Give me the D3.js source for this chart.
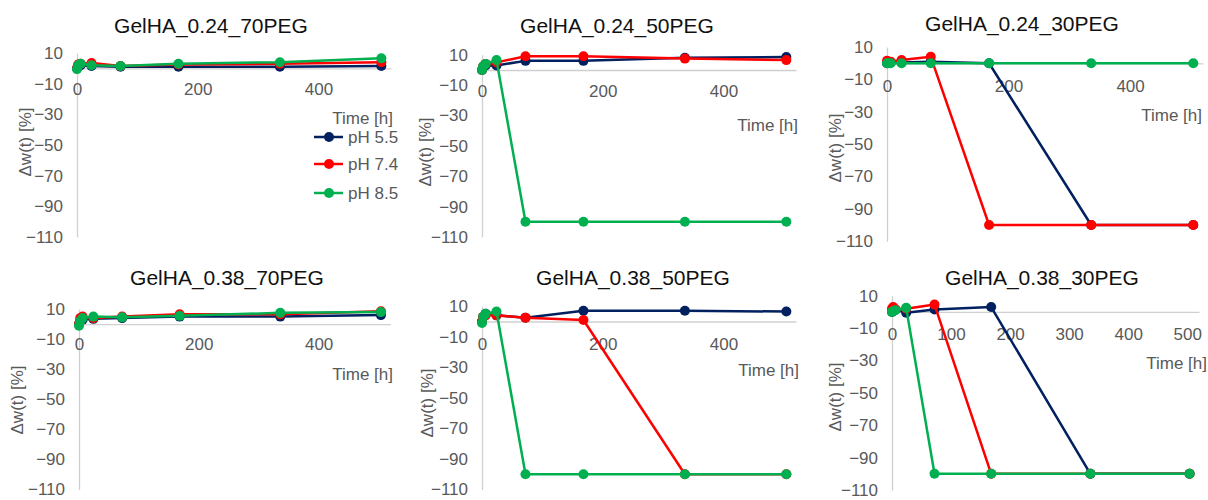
<!DOCTYPE html>
<html>
<head>
<meta charset="utf-8">
<script src="https://cdn.jsdelivr.net/npm/d3@7"></script>
<style>
  html, body { margin: 0; padding: 0; background: #fff; }
  svg { display: block; font-family: "Liberation Sans", Arial, sans-serif; }
</style>
</head>
<body>
<svg id="chart" width="1208" height="500"></svg>
<script>
// ---------- data ----------
const timeH = [0, 2, 6, 24, 72, 168, 336, 504];
const seriesNames = ["pH 5.5", "pH 7.4", "pH 8.5"];
const panelTitles = ["GelHA_0.24_70PEG", "GelHA_0.24_50PEG", "GelHA_0.24_30PEG",
                     "GelHA_0.38_70PEG", "GelHA_0.38_50PEG", "GelHA_0.38_30PEG"];
const yTicks = [-110, -90, -70, -50, -30, -10, 10];
const xTicksA = [0, 200, 400];
const xTicksB = [0, 100, 200, 300, 400, 500];

// Δw(t) [%] per panel, series order: pH 5.5, pH 7.4, pH 8.5
const dw_024_70 = [
  [0, 1.5, 2, 1.5, 1, 1, 1, 1.5],
  [0, 2.5, 3, 3.5, 1.5, 2.5, 3, 4],
  [-0.5, 2, 3, 2, 1.5, 3, 4, 6.5]
];
const dw_024_50 = [
  [0, 2, 3, 3, 6, 6, 8, 8.5],
  [0, 2.5, 4, 5, 9, 9, 7.5, 6.5],
  [0, 2.5, 4, 6.5, -100, -100, -100, -100]
];
const dw_024_30 = [
  [0, 0.5, 0.5, 0.5, 1, 0, -100, -100],
  [1.5, 1, 1, 2, 4, -100, -100, -100],
  [0, 0, 0, 0, 0, 0, 0, 0]
];
const dw_038_70 = [
  [0, 2, 3, 3.5, 4, 5, 5, 6],
  [0, 4, 5, 4, 5, 6.5, 6.5, 8.5],
  [-1, 2, 4, 5, 4.5, 5.5, 7.5, 8]
];
const dw_038_50 = [
  [0, 3, 5, 4, 2.5, 7, 7, 6.5],
  [0, 3, 4, 4, 2.5, 1, -100, -100],
  [-1, 3, 5, 6.5, -100, -100, -100, -100]
];
const dw_038_30 = [
  [0, 1.5, 1.5, -0.5, 1.5, 3, -100, -100],
  [2, 3, 1.5, 2, 4.5, -100, -100, -100],
  [0, 0.5, 1, 2.5, -100, -100, -100, -100]
];
const panelData = [dw_024_70, dw_024_50, dw_024_30, dw_038_70, dw_038_50, dw_038_30];
const panelXTicks = [xTicksA, xTicksA, xTicksA, xTicksA, xTicksA, xTicksB];

// ---------- layout / style ----------
const colors = ["#002060", "#FF0000", "#00B050"];
const layout = [
  {ax: 77,  xEnd: 391,  yTop: 53,    yBot: 237,   tx: 211,  ty: 33,  timeX: 393,  timeY: 124, ytX: 25,  ytY: 142, off: 27},
  {ax: 482, xEnd: 796,  yTop: 54.8,  yBot: 236.9, tx: 617,  ty: 33,  timeX: 798,  timeY: 131, ytX: 425, ytY: 152, off: 27},
  {ax: 887, xEnd: 1203, yTop: 47.1,  yBot: 241.2, tx: 1022, ty: 31,  timeX: 1202, timeY: 121, ytX: 835, ytY: 148, off: 29},
  {ax: 79,  xEnd: 390.5,yTop: 309.1, yBot: 489.5, tx: 227,  ty: 285, timeX: 393,  timeY: 380, ytX: 17,  ytY: 400, off: 26},
  {ax: 482, xEnd: 796,  yTop: 306.2, yBot: 489.5, tx: 633,  ty: 285, timeX: 799,  timeY: 376, ytX: 427, ytY: 403, off: 28},
  {ax: 892, xEnd: 1199, yTop: 295.7, yBot: 490,   tx: 1042, ty: 285, timeX: 1207, timeY: 369, ytX: 835, ytY: 397, off: 28}
];
const xMax = 520;
const gray = "#595959";
const axisGray = "#d0d0d0";

const svg = d3.select("#chart");

panelData.forEach((series, p) => {
  const L = layout[p];
  const x = d3.scaleLinear().domain([0, xMax]).range([L.ax, L.xEnd]);
  const y = d3.scaleLinear().domain([-110, 10]).range([L.yBot, L.yTop]);
  const g = svg.append("g");

  // title
  g.append("text").attr("x", L.tx).attr("y", L.ty).attr("text-anchor", "middle")
    .attr("font-size", 21).attr("fill", "#111").text(panelTitles[p]);

  // y axis
  const yAxis = g.append("g").attr("transform", `translate(${L.ax},0)`)
    .call(d3.axisLeft(y).tickValues(yTicks).tickSize(0).tickSizeOuter(0).tickPadding(14));
  yAxis.select(".domain").attr("stroke", axisGray).attr("stroke-width", 1.3);
  yAxis.selectAll("text").attr("font-size", 17).attr("fill", gray)
    .attr("font-family", "Liberation Sans, Arial, sans-serif");

  // x axis at y = 0
  const xAxis = g.append("g").attr("transform", `translate(0,${y(0)})`)
    .call(d3.axisBottom(x).tickValues(panelXTicks[p]).tickSize(0).tickSizeOuter(0).tickPadding(L.off - 12));
  xAxis.select(".domain").attr("stroke", axisGray).attr("stroke-width", 1.3);
  xAxis.selectAll("text").attr("font-size", 17).attr("fill", gray)
    .attr("font-family", "Liberation Sans, Arial, sans-serif");

  // axis titles
  g.append("text").attr("x", L.timeX).attr("y", L.timeY).attr("text-anchor", "end")
    .attr("font-size", 17).attr("fill", gray).text("Time [h]");
  g.append("text").attr("transform", `translate(${L.ytX},${L.ytY}) rotate(-90)`)
    .attr("text-anchor", "middle").attr("dy", "0.35em")
    .attr("font-size", 17).attr("fill", gray).text("Δw(t) [%]");

  // series
  const line = d3.line().x((d, i) => x(timeH[i])).y(d => y(d));
  series.forEach((vals, s) => {
    g.append("path").datum(vals).attr("d", line).attr("fill", "none")
      .attr("stroke", colors[s]).attr("stroke-width", 2.5).attr("stroke-linejoin", "round");
    g.selectAll(null).data(vals).enter().append("circle")
      .attr("cx", (d, i) => x(timeH[i])).attr("cy", d => y(d)).attr("r", 5)
      .attr("fill", colors[s]);
  });
});

// legend (in first panel)
const lg = svg.append("g");
const legY = [137, 164, 193];
seriesNames.forEach((name, s) => {
  lg.append("line").attr("x1", 314).attr("x2", 343).attr("y1", legY[s]).attr("y2", legY[s])
    .attr("stroke", colors[s]).attr("stroke-width", 2.5);
  lg.append("circle").attr("cx", 329).attr("cy", legY[s]).attr("r", 5).attr("fill", colors[s]);
  lg.append("text").attr("x", 348).attr("y", legY[s]).attr("dy", "0.35em")
    .attr("font-size", 17).attr("fill", gray).text(name);
});
</script>
</body>
</html>
